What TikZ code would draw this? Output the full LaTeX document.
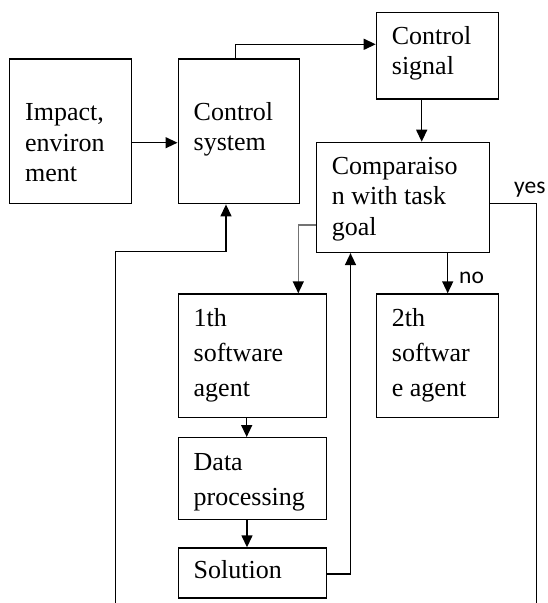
\documentclass[tikz,border=0pt]{standalone}
\usepackage{fontspec}
\setmainfont{Liberation Serif}
\newfontfamily\labelfont{Carlito}
\usetikzlibrary{arrows.meta}

% text block whose first baseline sits on the node's base anchor
\newcommand\blocklines[1]{\parbox[t]{200pt}{\raggedright #1}}

\tikzset{
  box/.style={draw, line width=1.4pt, rectangle, inner sep=0pt, anchor=north west},
  txt/.style={anchor=base west, inner sep=0pt, font=\fontsize{26}{30.5}\selectfont},
  txtwide/.style={anchor=base west, inner sep=0pt, font=\fontsize{26}{35}\selectfont},
  lbl/.style={anchor=base west, inner sep=0pt, font=\labelfont\fontsize{23.5}{27}\selectfont},
  tip/.style={-{Triangle[length=12pt,width=11pt]}},
  conn/.style={line width=1.4pt, tip},
  plain/.style={line width=1.4pt},
}

\begin{document}
\begin{tikzpicture}[x=1pt, y=-1pt]
  \useasboundingbox (0,0) rectangle (547,603);

  % blocks
  \node[box, minimum width=122pt, minimum height=144.7pt] (impact) at (8.7,58.3) {};
  \node[box, minimum width=121.5pt, minimum height=144.7pt] (csys) at (177.5,58.3) {};
  \node[box, minimum width=122pt, minimum height=86.6pt] (csig) at (375.7,11.7) {};
  \node[box, minimum width=173.3pt, minimum height=110pt] (comp) at (315.7,141.7) {};
  \node[box, minimum width=148pt, minimum height=123.7pt] (agent1) at (177.5,293.3) {};
  \node[box, minimum width=122pt, minimum height=123.7pt] (agent2) at (375.7,293.3) {};
  \node[box, minimum width=148pt, minimum height=81.5pt] (data) at (177.5,437) {};
  \node[box, minimum width=148pt, minimum height=50pt] (sol) at (177.5,547.3) {};

  % block texts
  \node[txt] (impact-t) at (25,120.7) {\blocklines{Impact,\\environ\\ment}};
  \node[txt] (csys-t) at (193.5,120) {\blocklines{Control\\system}};
  \node[txt] (csig-t) at (391.7,44) {\blocklines{Control\\signal}};
  \node[txt] (comp-t) at (331.7,174.3) {\blocklines{Comparaiso\\n with task\\goal}};
  \node[txtwide] (agent1-t) at (193.5,326) {\blocklines{1th\\software\\agent}};
  \node[txtwide] (agent2-t) at (391.7,326) {\blocklines{2th\\softwar\\e agent}};
  \node[txtwide] (data-t) at (193.5,470) {\blocklines{Data\\processing}};
  \node[txt] (sol-t) at (193.5,578.3) {\blocklines{Solution}};

  % free ends at the lower edge
  \coordinate (loopin) at (115.3,603);
  \coordinate (yesout) at (536.7,603);

  % connectors
  \draw[conn] (impact.east |- 0,142.7) -- (csys.west |- 0,142.7);
  \draw[conn] (csys.north -| 235.7,0) |- (csig.west |- 0,44.3);
  \draw[conn] (csig.south -| 421.7,0) -- (comp.north -| 421.7,0);
  \draw[plain] (comp.east |- 0,203.3) -| (yesout);
  \node[lbl] (yes) at (514,193) {yes};
  \draw[line width=1.4pt, draw=black!55, -{Triangle[length=12pt,width=11pt,color=black]}]
    (comp.west |- 0,225) -| (agent1.north -| 298.3,0);
  \draw[conn] (comp.south -| 447.7,0) -- (agent2.north -| 447.7,0);
  \node[lbl] (no) at (459,283.3) {no};
  \draw[conn] (loopin) |- (226,251.7) -- (csys.south -| 226,0);
  \draw[conn] (sol.east |- 0,574) -| (comp.south -| 350.5,0);
  \draw[conn] (agent1.south -| 246.7,0) -- (data.north -| 246.7,0);
  \draw[conn] (data.south -| 247,0) -- (sol.north -| 247,0);
\end{tikzpicture}
\end{document}
